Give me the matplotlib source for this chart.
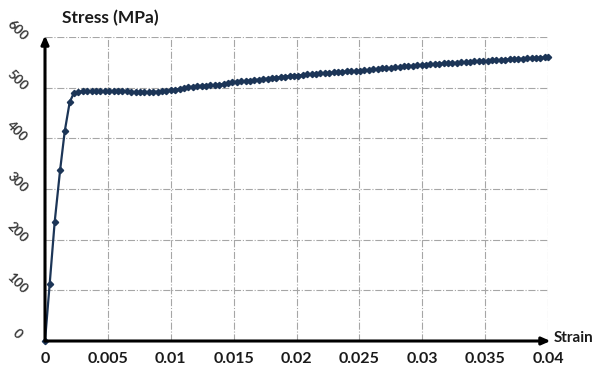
import matplotlib
matplotlib.use("Agg")
import matplotlib.pyplot as plt
from matplotlib.transforms import ScaledTranslation

# tensile test curve, strain given in units of 1e-3
strain_milli = [
    0, 0.37, 0.77, 1.2, 1.57, 1.96, 2.3,
    2.65, 3.0, 3.35, 3.7, 4.05, 4.4, 4.75, 5.1, 5.45, 5.8, 6.15, 6.5, 6.85,
    7.2, 7.55, 7.9, 8.25, 8.6, 8.95, 9.3, 9.65, 10.0, 10.35, 10.7, 11.05,
    11.4, 11.75, 12.1, 12.45, 12.8, 13.15, 13.5, 13.85, 14.2, 14.55, 14.9,
    15.25, 15.6, 15.95, 16.3, 16.65, 17.0, 17.35, 17.7, 18.05, 18.4, 18.75,
    19.1, 19.45, 19.8, 20.15, 20.5, 20.85, 21.2, 21.55, 21.9, 22.25, 22.6,
    22.95, 23.3, 23.65, 24.0, 24.35, 24.7, 25.05, 25.4, 25.75, 26.1, 26.45,
    26.8, 27.15, 27.5, 27.85, 28.2, 28.55, 28.9, 29.25, 29.6, 29.95, 30.3,
    30.65, 31.0, 31.35, 31.7, 32.05, 32.4, 32.75, 33.1, 33.45, 33.8, 34.15,
    34.5, 34.85, 35.2, 35.55, 35.9, 36.25, 36.6, 36.95, 37.3, 37.65, 38.0,
    38.35, 38.7, 39.05, 39.4, 39.75, 40.0,
]
stress = [
    0, 112, 235, 337, 414, 471, 490,
    492, 493, 493, 493, 493, 493, 493, 493, 494, 494, 494, 493, 492,
    491, 491, 491, 491, 492, 492, 493, 494, 495, 496, 498, 499,
    501, 502, 503, 504, 504, 505, 505, 506, 507, 509, 511,
    512, 513, 513, 514, 515, 516, 517, 518, 519, 520, 521,
    522, 523, 524, 524, 525, 526, 527, 527, 528, 529, 529,
    530, 531, 531, 532, 532, 533, 533, 534, 535, 536, 537,
    538, 538, 539, 540, 541, 542, 543, 543, 544, 545, 545,
    546, 547, 547, 548, 548, 549, 549, 550, 550, 551, 552,
    552, 553, 553, 554, 554, 555, 555, 556, 556, 557, 557,
    558, 558, 559, 559, 560, 560,
]
strain = [s / 1000 for s in strain_milli]

x_ticks = [0, 0.005, 0.01, 0.015, 0.02, 0.025, 0.03, 0.035, 0.04]
x_labels = ["0", "0.005", "0.01", "0.015", "0.02", "0.025", "0.03", "0.035", "0.04"]
y_ticks = [0, 100, 200, 300, 400, 500, 600]

NAVY, GRID, INK = "#1c3557", "#a6a6a6", "#1a1a1a"
plt.rcParams.update({"font.family": ["Lato", "DejaVu Sans"], "font.weight": "bold"})

fig = plt.figure(figsize=(5.94, 3.70), dpi=100)
ax = fig.add_axes([45 / 594, 1 - 341 / 370, 503 / 594, 304 / 370])
ax.set_xlim(0, 0.04)
ax.set_ylim(0, 600)

ax.grid(True, color=GRID, lw=0.8, ls="-.", zorder=0)
ax.set_xticks(x_ticks)
ax.set_xticklabels(x_labels)
ax.set_yticks(y_ticks)
ax.tick_params(length=0, labelsize=11.5, colors=INK)
ax.tick_params(axis="x", pad=8)
ax.tick_params(axis="y", pad=20)
# slanted y labels, nudged up a little from their gridlines
lift = ScaledTranslation(0, 5 / 72, fig.dpi_scale_trans)
for lab in ax.get_yticklabels():
    lab.set_rotation(-45)
    lab.set_fontsize(9.5)
    lab.set_color("#3a3a3a")
    lab.set_ha("center")
    lab.set_va("center")
    lab.set_transform(lab.get_transform() + lift)
for s in ax.spines.values():
    s.set_visible(False)

# axes drawn as arrows
arrow = dict(arrowstyle="-|>,head_length=0.5,head_width=0.22", color="black", lw=2.2,
             shrinkA=0, shrinkB=0)
ax.annotate("", xy=(1.005, 0), xytext=(0, 0), xycoords="axes fraction",
            arrowprops=arrow, annotation_clip=False, zorder=5)
ax.annotate("", xy=(0, 1.005), xytext=(0, 0), xycoords="axes fraction",
            arrowprops=arrow, annotation_clip=False, zorder=5)

ax.plot(strain, stress, color=NAVY, lw=1.6, marker="D", ms=3.2, mfc=NAVY, mec=NAVY,
        zorder=4, clip_on=False)

fig.text(62 / 594, 1 - 18 / 370, "Stress (MPa)", fontsize=12.5, color=INK, va="center", ha="left")
fig.text(554 / 594, 1 - 338 / 370, "Strain", fontsize=11, color=INK, va="center", ha="left")

fig.savefig("out.png", dpi=100)
